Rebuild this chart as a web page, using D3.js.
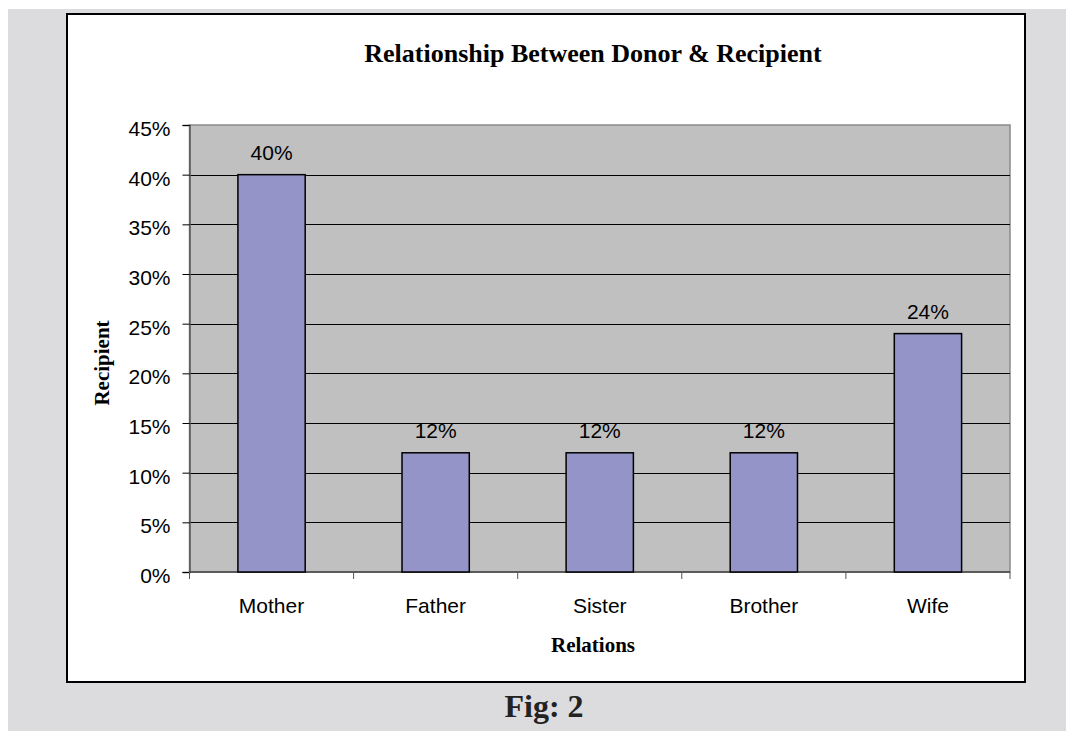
<!DOCTYPE html>
<html><head><meta charset="utf-8">
<script src="https://cdn.jsdelivr.net/npm/d3@7"></script>
<style>html,body{margin:0;padding:0;background:#fff;}</style>
</head><body>
<svg id="c" width="1066" height="731"></svg>
<script>
const categories = ["Mother", "Father", "Sister", "Brother", "Wife"];
const values = [0.40, 0.12, 0.12, 0.12, 0.24];
const yTicks = [0, 0.05, 0.10, 0.15, 0.20, 0.25, 0.30, 0.35, 0.40, 0.45];
const title = "Relationship Between Donor & Recipient";
const xTitle = "Relations";
const yTitle = "Recipient";
const caption = "Fig: 2";

const svg = d3.select("#c");
svg.append("rect").attr("x", 8).attr("y", 9).attr("width", 1058).attr("height", 722).attr("fill", "#dcdcde");
svg.append("rect").attr("x", 67).attr("y", 14).attr("width", 958).attr("height", 668)
  .attr("fill", "#fff").attr("stroke", "#000").attr("stroke-width", 2);

const L = 189.5, R = 1010, T = 125, B = 572;
const x = d3.scaleBand().domain(categories).range([L, R]).paddingInner(0.59).paddingOuter(0.295);
const y = d3.scaleLinear().domain([0, 0.45]).range([B, T]);
const sans = "Liberation Sans, Arial, sans-serif";

svg.append("rect").attr("x", L).attr("y", T).attr("width", R - L).attr("height", B - T)
  .attr("fill", "#c0c0c0").attr("stroke", "#8a8a8a").attr("stroke-width", 1.5);

// gridlines
svg.append("g").selectAll("line").data(yTicks.filter(d => d > 0 && d < 0.45)).join("line")
  .attr("x1", L).attr("x2", R).attr("y1", d => Math.round(y(d)) + 0.5).attr("y2", d => Math.round(y(d)) + 0.5)
  .attr("stroke", "#000").attr("stroke-width", 1);

// y axis
const yAxis = d3.axisLeft(y).tickValues(yTicks).tickFormat(d3.format(".0%")).tickSize(7).tickPadding(12);
const gy = svg.append("g").attr("transform", `translate(${L},0)`).call(yAxis);
gy.select(".domain").attr("stroke", "#555").attr("stroke-width", 1.5);
gy.selectAll(".tick line").attr("stroke", "#000");
gy.selectAll("text").attr("font-family", sans).attr("font-size", 21).attr("fill", "#000").attr("dy", "0.5em");

// x axis
const gx = svg.append("g").attr("transform", `translate(0,${B})`);
gx.append("line").attr("x1", L).attr("x2", R).attr("y1", 0).attr("y2", 0).attr("stroke", "#444").attr("stroke-width", 1.5);
const bounds = d3.range(categories.length + 1).map(i => L + i * (R - L) / categories.length);
gx.selectAll("line.tk").data(bounds).join("line").attr("class", "tk")
  .attr("x1", d => d).attr("x2", d => d).attr("y1", 0).attr("y2", 7).attr("stroke", "#555").attr("stroke-width", 1);
gx.selectAll("text").data(categories).join("text")
  .attr("x", d => x(d) + x.bandwidth() / 2).attr("y", 41).attr("text-anchor", "middle")
  .attr("font-family", sans).attr("font-size", 21).attr("fill", "#000").text(d => d);

// bars
svg.append("g").selectAll("rect").data(categories).join("rect")
  .attr("x", d => x(d)).attr("width", x.bandwidth())
  .attr("y", (d, i) => y(values[i])).attr("height", (d, i) => B - y(values[i]))
  .attr("fill", "#9494c8").attr("stroke", "#000").attr("stroke-width", 1.5);

// labels
svg.append("g").selectAll("text").data(categories).join("text")
  .attr("x", d => x(d) + x.bandwidth() / 2).attr("y", (d, i) => y(values[i]) - 15)
  .attr("text-anchor", "middle").attr("font-family", sans).attr("font-size", 21)
  .attr("fill", "#000").text((d, i) => d3.format(".0%")(values[i]));

const serif = "Liberation Serif, Times New Roman, serif";
svg.append("text").attr("x", 593).attr("y", 62).attr("text-anchor", "middle").attr("font-family", serif)
  .attr("font-weight", "bold").attr("font-size", 26).text(title);
svg.append("text").attr("x", 593).attr("y", 652).attr("text-anchor", "middle").attr("font-family", serif)
  .attr("font-weight", "bold").attr("font-size", 21).text(xTitle);
svg.append("text").attr("transform", "translate(109,363) rotate(-90)").attr("text-anchor", "middle").attr("font-family", serif)
  .attr("font-weight", "bold").attr("font-size", 21).text(yTitle);
svg.append("text").attr("x", 544).attr("y", 717).attr("text-anchor", "middle").attr("font-family", serif)
  .attr("font-weight", "bold").attr("font-size", 32).attr("fill", "#222").text(caption);
</script>
</body></html>
